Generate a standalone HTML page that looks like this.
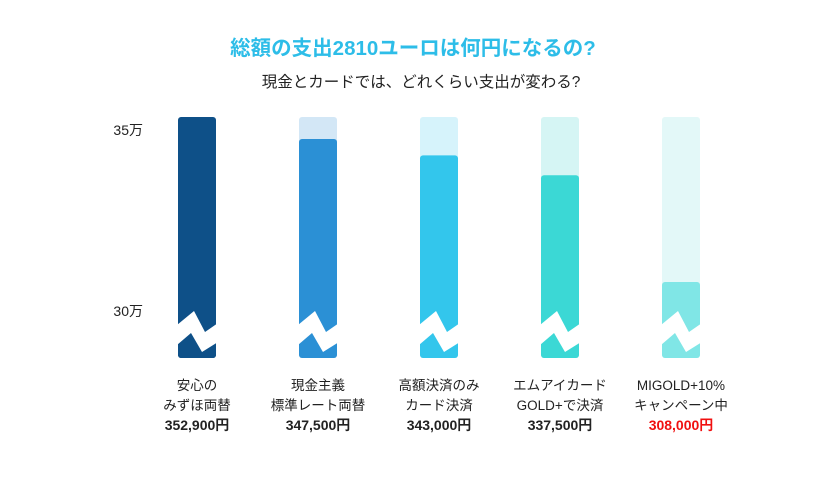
<!DOCTYPE html>
<html><head><meta charset="utf-8"><style>
body{margin:0;background:#fff;width:840px;height:473px;overflow:hidden;font-family:"Liberation Sans","Noto Sans CJK JP",sans-serif}
</style></head><body>
<svg id="chart" width="840" height="473" xmlns="http://www.w3.org/2000/svg">
<text x="413" y="55" text-anchor="middle" font-size="20.5" font-weight="bold" fill="#2dbde8" font-family="Liberation Sans,Noto Sans CJK JP,sans-serif">総額の支出2810ユーロは何円になるの?</text>
<text x="421" y="87" text-anchor="middle" font-size="15.5" fill="#222" font-family="Liberation Sans,Noto Sans CJK JP,sans-serif">現金とカードでは、どれくらい支出が変わる?</text>
<g id="axis"></g><g id="bars"></g><g id="labels"></g>
</svg>
<script>
const categories1=["安心の","現金主義","高額決済のみ","エムアイカード","MIGOLD+10%"];
const categories2=["みずほ両替","標準レート両替","カード決済","GOLD+で決済","キャンペーン中"];
const values=[352900,347500,343000,337500,308000];
const valueLabels=["352,900円","347,500円","343,000円","337,500円","308,000円"];
const tickValues=[350000,300000];
const tickLabels=["35万","30万"];
const colors=["#0e5088","#2b90d5","#33c6ec","#3bd8d5","#80e6e6"];
const bgColors=["#0e5088","#d3e7f6","#d6f3fb","#d5f5f4","#e3f8f8"];
const NS="http://www.w3.org/2000/svg";
const FONT="Liberation Sans,Noto Sans CJK JP,sans-serif";
function y(v){return 130-(v-350000)*181/50000;}
function x(i){return 178+i*121;}
const BW=38,TOP=117,BOT=358;
function mk(t,a,p){const e=document.createElementNS(NS,t);for(const k in a)e.setAttribute(k,a[k]);p.appendChild(e);return e;}
const ax=document.getElementById('axis');
tickValues.forEach((v,i)=>{const t=mk('text',{x:143,y:y(v)+5,'text-anchor':'end','font-size':14,fill:'#222','font-family':FONT},ax);t.textContent=tickLabels[i];

});
const bars=document.getElementById('bars'),lab=document.getElementById('labels');
values.forEach((v,i)=>{
 const X=x(i);
 const bg=mk('rect',{x:X,y:TOP,width:BW,height:BOT-TOP,rx:3,fill:bgColors[i]},bars);
 
 
 const b=mk('rect',{x:X,y:y(v),width:BW,height:BOT-y(v),rx:3,fill:colors[i]},bars);
 
 
 const z=mk('polygon',{points:`${X-1},325 ${X+16},311 ${X+27},332 ${X+40},323 ${X+40},342 ${X+24},352 ${X+13},333 ${X-1},345`,fill:'#fff'},bars);
 
 
 const cx=X+BW/2;
 [[categories1[i],390,'normal','#222',13.5],[categories2[i],410,'normal','#222',13.5],[valueLabels[i],430,'bold',i==4?'#f01010':'#222',14]].forEach(([s,yy,w,c,fs],k)=>{
  const t=mk('text',{x:cx,y:yy,'text-anchor':'middle','font-size':fs,'font-weight':w,fill:c,'font-family':FONT},lab);
  t.textContent=s;
  
  
 });
});
</script>
</body></html>
